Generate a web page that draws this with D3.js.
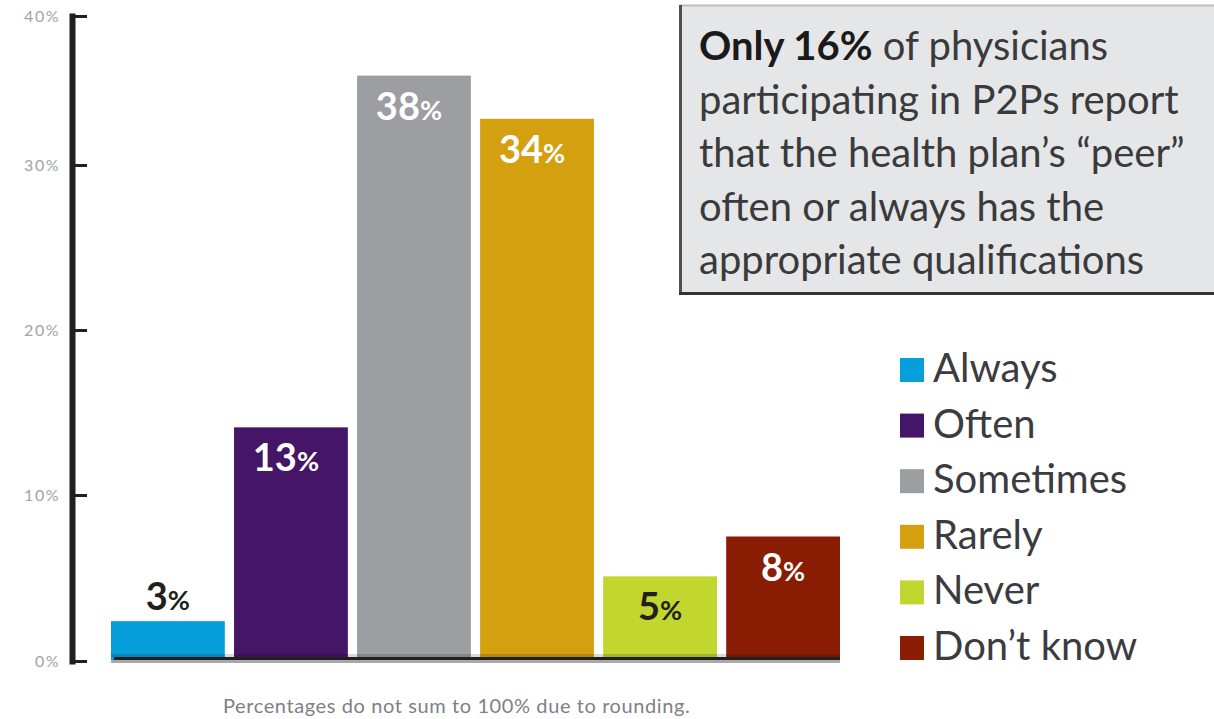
<!DOCTYPE html>
<html>
<head>
<meta charset="utf-8">
<script src="https://cdn.jsdelivr.net/npm/d3@7"></script>
<style>
  body { margin: 0; background: #fff; }
  svg { display: block; font-family: Lato, "Open Sans", sans-serif; }
</style>
</head>
<body>
<div id="chart"></div>
<script>
// data
const categories = ["Always", "Often", "Sometimes", "Rarely", "Never", "Don\u2019t know"]
const values = [2.4, 14.1, 36.0, 33.1, 5.1, 7.5]
const valueLabels = ["3", "13", "38", "34", "5", "8"]
const barColors = ["#069fdb", "#451567", "#9d9ea2", "#d4a010", "#c1d62e", "#8a1c03"]
const labelColors = ["#231f20", "#ffffff", "#ffffff", "#ffffff", "#231f20", "#ffffff"]
const labelInside = [false, true, true, true, true, true]
const yTicks = [0, 10, 20, 30, 40]
const calloutBold = "Only 16%"
const calloutLines = [
  " of physicians",
  "participating in P2Ps report",
  "that the health plan\u2019s \u201cpeer\u201d",
  "often or always has the",
  "appropriate qualifications"
]
const footnote = "Percentages do not sum to 100% due to rounding."

let w = 1214, h = 719

const svg = d3.select("#chart")
  .append("svg")
  .attr("width", w)
  .attr("height", h)

// y scale: the original axis is a bit squeezed between 30% and 40%
const y = d3.scaleLinear()
  .domain([0, 10, 20, 30, 40])
  .range([661, 495, 330, 165, 16])

const x = d3.scaleBand()
  .domain(categories)
  .range([111, 840])
  .paddingInner(0.075)
  .paddingOuter(0)

// bars
svg.append("g")
  .selectAll("rect")
  .data(categories)
  .join("rect")
    .attr("x", d => x(d))
    .attr("y", (d, i) => y(values[i]))
    .attr("width", x.bandwidth())
    .attr("height", (d, i) => y(0) - y(values[i]))
    .attr("fill", (d, i) => barColors[i])

// baseline with its little shadow
svg.append("rect").attr("x", 111).attr("y", 654).attr("width", 729).attr("height", 3)
  .attr("fill", "#000").attr("opacity", 0.15)
svg.append("rect").attr("x", 114).attr("y", 657).attr("width", 726).attr("height", 3)
  .attr("fill", "#231f20")
svg.append("rect").attr("x", 111).attr("y", 660).attr("width", 729).attr("height", 3)
  .attr("fill", "#a9a9ab")

// y axis
const yAxis = svg.append("g")
  .attr("transform", "translate(72,0)")
  .call(d3.axisLeft(y).tickValues(yTicks).tickSizeInner(-15).tickSizeOuter(0)
    .tickPadding(12).tickFormat(d => d + "%"))
yAxis.select(".domain")
  .attr("stroke", "#231f20")
  .attr("stroke-width", 6)
  .attr("stroke-linecap", "square")
yAxis.selectAll(".tick line")
  .attr("stroke", "#231f20")
  .attr("stroke-width", 3)
yAxis.selectAll(".tick text")
  .attr("fill", "#a3a3a8")
  .attr("font-size", 16)
  .attr("letter-spacing", 1.5)
  .attr("font-family", "Lato, sans-serif")

// value labels
const lab = svg.append("g")
  .selectAll("text")
  .data(categories)
  .join("text")
    .attr("x", (d, i) => x(d) + x.bandwidth() / 2 - (valueLabels[i].length > 1 ? 5 : 0))
    .attr("y", (d, i) => labelInside[i] ? y(values[i]) + 44 : y(values[i]) - 11)
    .attr("text-anchor", "middle")
    .attr("fill", (d, i) => labelColors[i])
lab.append("tspan")
  .attr("font-size", 38)
  .attr("font-weight", "bold")
  .text((d, i) => valueLabels[i])
lab.append("tspan")
  .attr("font-size", 27)
  .attr("font-weight", "bold")
  .text("%")

// callout box
const box = svg.append("g")
box.append("rect")
  .attr("x", 680.5).attr("y", 5.5)
  .attr("width", 560).attr("height", 288)
  .attr("fill", "#e5e6e7")
  .attr("stroke", "#bdbdbf")
  .attr("stroke-width", 2)
box.append("line").attr("x1", 680.5).attr("x2", 680.5).attr("y1", 5).attr("y2", 295)
  .attr("stroke", "#505052").attr("stroke-width", 3)
box.append("line").attr("x1", 679).attr("x2", 1214).attr("y1", 293.5).attr("y2", 293.5)
  .attr("stroke", "#333335").attr("stroke-width", 3)

const lineY = d3.scaleLinear().domain([0, 4]).range([60, 274])
const calloutText = box.selectAll("text.call")
  .data(calloutLines)
  .join("text")
    .attr("class", "call")
    .attr("x", 699)
    .attr("y", (d, i) => lineY(i))
    .attr("font-size", 40)
    .attr("fill", "#3a3a3c")
calloutText.filter((d, i) => i === 0)
  .append("tspan")
  .attr("font-weight", "bold")
  .attr("fill", "#1a1a1a")
  .text(calloutBold)
calloutText.append("tspan").text(d => d)

// legend
const ly = d3.scalePoint().domain(categories).range([370, 648])
const leg = svg.append("g")
leg.selectAll("rect")
  .data(categories)
  .join("rect")
    .attr("x", 900)
    .attr("y", d => ly(d) - 12)
    .attr("width", 24)
    .attr("height", 24)
    .attr("fill", (d, i) => barColors[i])
leg.selectAll("text")
  .data(categories)
  .join("text")
    .attr("x", 933)
    .attr("y", d => ly(d) + 12)
    .attr("font-size", 40)
    .attr("fill", "#3b3b40")
    .text(d => d)

// footnote
svg.append("text")
  .attr("x", 223)
  .attr("y", 713)
  .attr("font-size", 20)
  .attr("letter-spacing", 0.6)
  .attr("fill", "#808085")
  .text(footnote)
</script>
</body>
</html>
